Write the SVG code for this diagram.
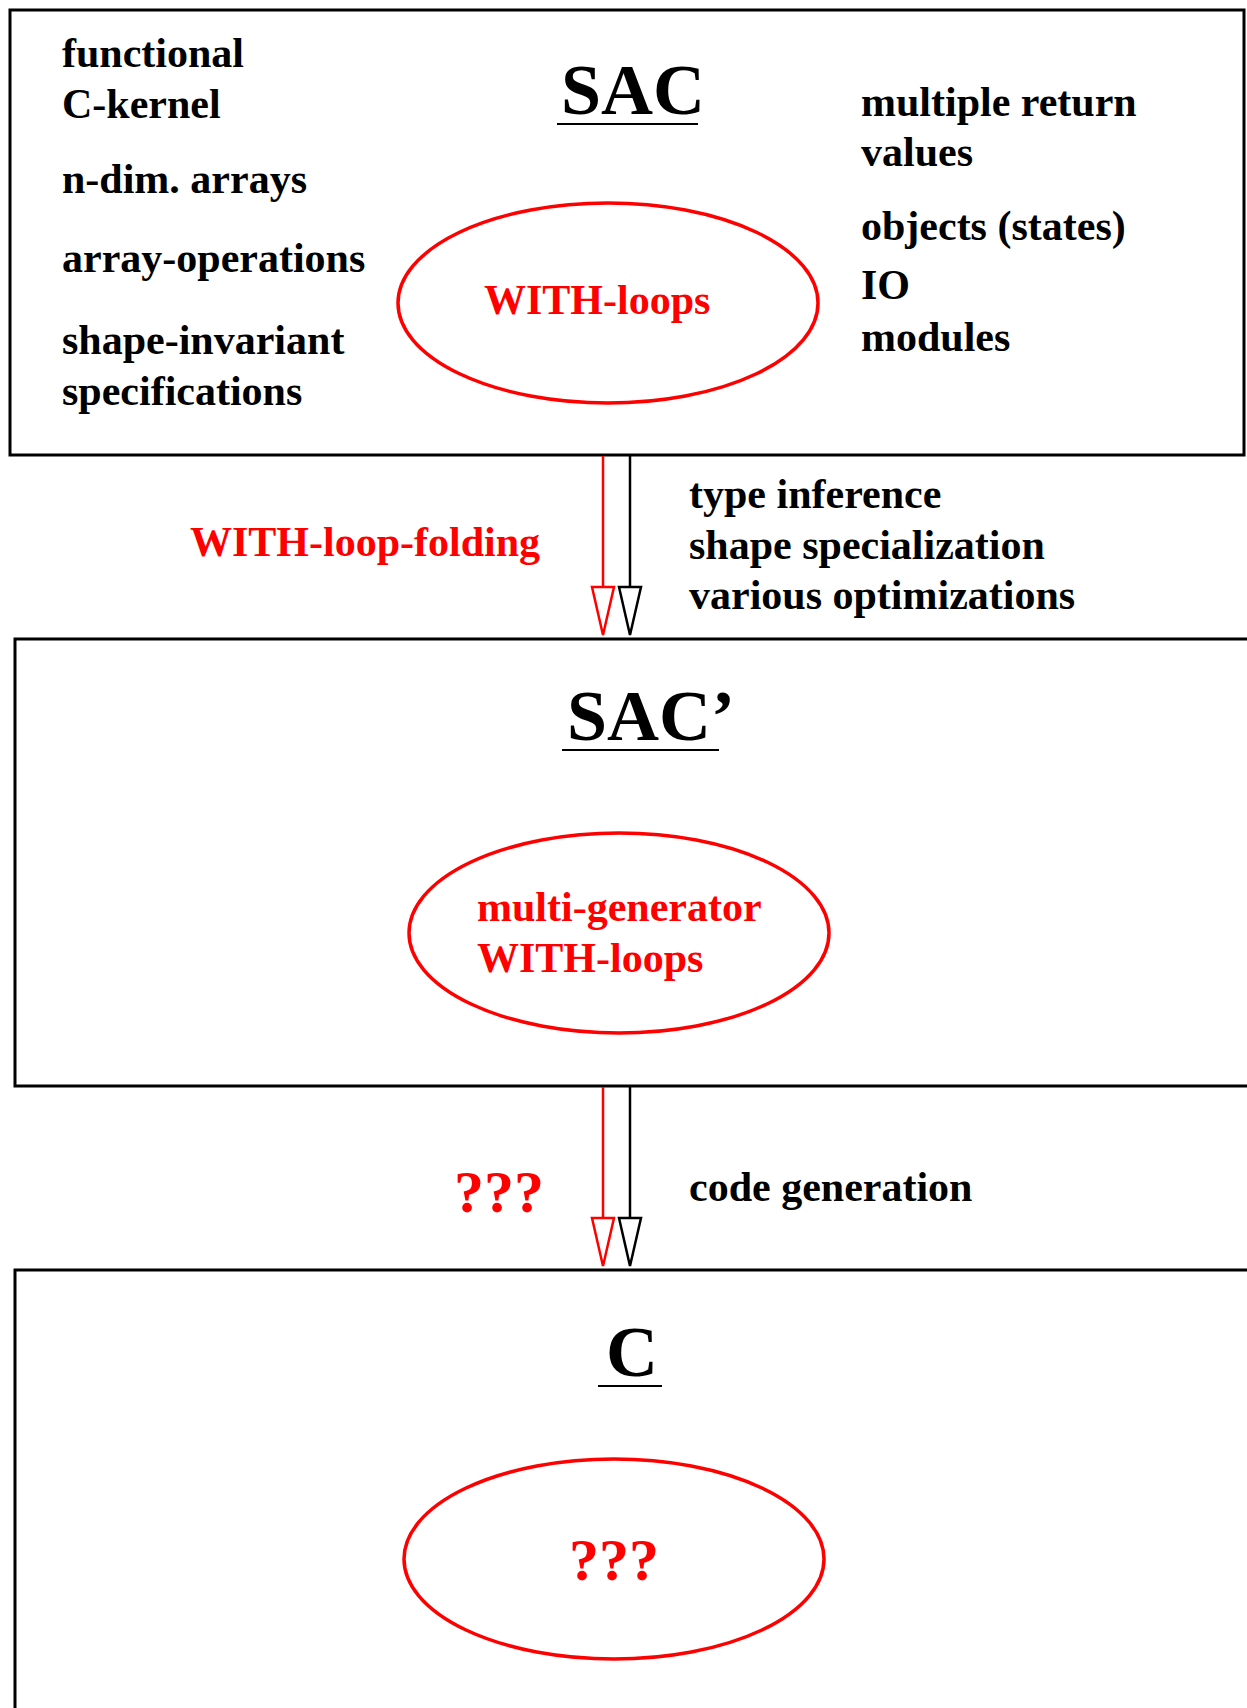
<svg xmlns="http://www.w3.org/2000/svg" width="1247" height="1708" viewBox="0 0 1247 1708">
<style>
text{font-family:"Liberation Serif","Times New Roman",serif;font-weight:bold}
.t{font-size:42px;fill:#000}
.r{font-size:42px;fill:#ff0000}
.title{font-size:72px;fill:#000}
.q{font-size:60px;fill:#ff0000}
.box{fill:none;stroke:#000;stroke-width:3}
.ell{fill:none;stroke:#ff0000;stroke-width:3.5}
.ul{stroke:#000;stroke-width:2}
.lr{stroke:#ff0000;stroke-width:2.5;fill:none}
.lb{stroke:#000;stroke-width:2.5;fill:none}
.hr{fill:#fff;stroke:#ff0000;stroke-width:2.5}
.hb{fill:#fff;stroke:#000;stroke-width:2.5}
</style>
<rect width="1247" height="1708" fill="#fff"/>
<g id="sac">
<rect class="box" x="10" y="10" width="1234" height="445"/>
<text class="title" x="561" y="114">SAC</text>
<line class="ul" x1="557" y1="124" x2="698" y2="124"/>
<text class="t" x="62" y="67">functional</text>
<text class="t" x="62" y="118">C-kernel</text>
<text class="t" x="62" y="193">n-dim. arrays</text>
<text class="t" x="62" y="272">array-operations</text>
<text class="t" x="62" y="354">shape-invariant</text>
<text class="t" x="62" y="405">specifications</text>
<text class="t" x="861" y="116">multiple return</text>
<text class="t" x="861" y="166">values</text>
<text class="t" x="861" y="240">objects (states)</text>
<text class="t" x="861" y="299">IO</text>
<text class="t" x="861" y="351">modules</text>
</g>
<g id="sac-withloops">
<ellipse class="ell" cx="608" cy="303" rx="210" ry="100"/>
<text class="r" x="484" y="314">WITH-loops</text>
</g>
<g id="sacprime">
<rect class="box" x="15" y="639" width="1240" height="447"/>
<text class="title" x="567" y="740">SAC’</text>
<line class="ul" x1="562" y1="750" x2="719" y2="750"/>
</g>
<g id="sacprime-mg">
<ellipse class="ell" cx="619" cy="933" rx="210" ry="100"/>
<text class="r" x="477" y="921">multi-generator</text>
<text class="r" x="477" y="972">WITH-loops</text>
</g>
<g id="c">
<rect class="box" x="15" y="1270" width="1240" height="460"/>
<text class="title" x="606" y="1376">C</text>
<line class="ul" x1="598" y1="1386" x2="662" y2="1386"/>
</g>
<g id="c-q">
<ellipse class="ell" cx="614" cy="1559" rx="210" ry="100"/>
<text class="q" x="614" y="1580" text-anchor="middle">???</text>
</g>
<g id="connectors">
<line class="lr" x1="603" y1="456" x2="603" y2="587"/>
<polygon class="hr" points="592,587 614,587 603,635"/>
<line class="lb" x1="630" y1="456" x2="630" y2="587"/>
<polygon class="hb" points="619,587 641,587 630,635"/>
<text class="r" x="190" y="556">WITH-loop-folding</text>
<text class="t" x="689" y="508">type inference</text>
<text class="t" x="689" y="559">shape specialization</text>
<text class="t" x="689" y="609">various optimizations</text>
<line class="lr" x1="603" y1="1087" x2="603" y2="1218"/>
<polygon class="hr" points="592,1218 614,1218 603,1266"/>
<line class="lb" x1="630" y1="1087" x2="630" y2="1218"/>
<polygon class="hb" points="619,1218 641,1218 630,1266"/>
<text class="q" x="499" y="1212" text-anchor="middle">???</text>
<text class="t" x="689" y="1201">code generation</text>
</g>
</svg>
